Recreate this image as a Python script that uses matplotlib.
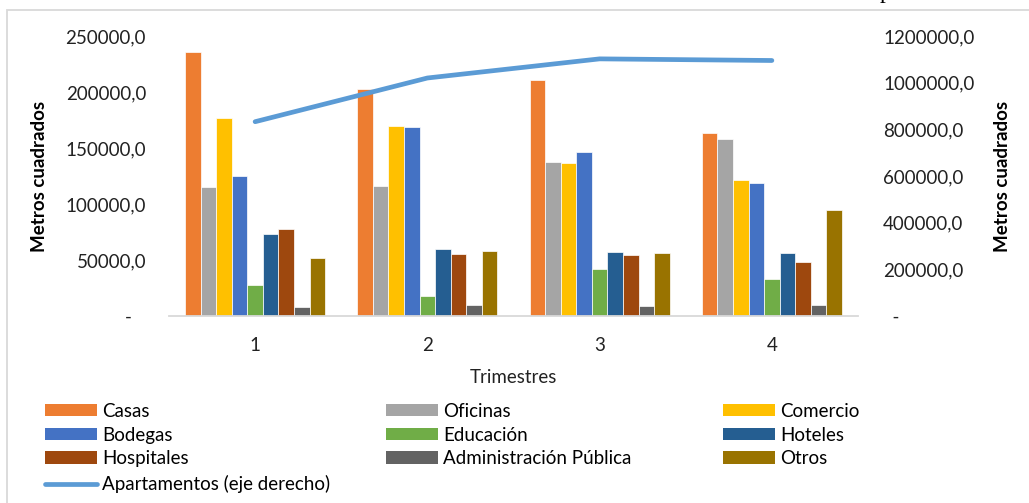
import numpy as np
import matplotlib.pyplot as plt
from matplotlib.patches import Patch, Rectangle
from matplotlib.lines import Line2D
from matplotlib.ticker import FuncFormatter, MultipleLocator

plt.rcParams["font.family"] = ["Lato", "DejaVu Sans"]

# Data
trimestres = ["1", "2", "3", "4"]
series_names = ["Casas", "Oficinas", "Comercio", "Bodegas", "Educación",
                "Hoteles", "Hospitales", "Administración Pública", "Otros"]
casas = [235500, 202700, 210700, 163000]
oficinas = [115200, 116000, 137800, 158000]
comercio = [176500, 169900, 136600, 121700]
bodegas = [125300, 169000, 146400, 119000]
educacion = [27300, 18100, 42000, 33300]
hoteles = [73500, 59800, 57400, 55900]
hospitales = [77700, 55400, 54500, 48200]
administracion = [8000, 9800, 9200, 9500]
otros = [51400, 58000, 56200, 94300]
apartamentos = [832700, 1020000, 1102000, 1095000]

series_values = [casas, oficinas, comercio, bodegas, educacion,
                 hoteles, hospitales, administracion, otros]
colors = ["#ED7D31", "#A5A5A5", "#FFC000", "#4472C4", "#70AD47",
          "#255E91", "#9E480E", "#636363", "#997300"]
line_color = "#5B9BD5"

W, H = 1029, 503
fig = plt.figure(figsize=(W / 100, H / 100), dpi=100)

# chart border (cut off on the right and bottom)
fig.add_artist(Rectangle((7 / W, -0.1), 1.2, 1 - 10 / H + 0.1,
                         transform=fig.transFigure, fill=False,
                         edgecolor="#D9D9D9", linewidth=1.3))
# descender of a letter from the page above
fig.text(885 / W, 1 + 2 / H, "p", family="Liberation Serif", fontsize=17,
         ha="center", va="baseline", color="black")

ax = fig.add_axes([169 / W, 1 - 316 / H, 689 / W, 280 / H])
ax2 = ax.twinx()

x = np.arange(len(trimestres))
n = len(series_values)
bw = 1 / (n + 2.07)
for i, (vals, col) in enumerate(zip(series_values, colors)):
    ax.bar(x + (i - (n - 1) / 2) * bw, vals, width=bw, color=col,
           edgecolor="white", linewidth=0.5, zorder=2)

ax2.plot(x, apartamentos, color=line_color, linewidth=3.4,
         solid_capstyle="round", solid_joinstyle="round", zorder=3)

ax.set_xlim(-0.5, len(trimestres) - 0.5)
ax.set_ylim(0, 250000)
ax2.set_ylim(0, 1200000)
ax.yaxis.set_major_locator(MultipleLocator(50000))
ax2.yaxis.set_major_locator(MultipleLocator(200000))


def fmt_left(v, pos):
    return "-   " if v == 0 else f"{v:.1f}".replace(".", ",")


def fmt_right(v, pos):
    return "  -" if v == 0 else f"{v:.1f}".replace(".", ",")


ax.yaxis.set_major_formatter(FuncFormatter(fmt_left))
ax2.yaxis.set_major_formatter(FuncFormatter(fmt_right))
ax.set_xticks(x)
ax.set_xticklabels(trimestres)

for a in (ax, ax2):
    for s in a.spines.values():
        s.set_visible(False)
    a.tick_params(length=0, labelsize=13.5, colors="#222222")
ax.tick_params(axis="y", pad=16.5)
ax2.tick_params(axis="y", pad=18)
ax.tick_params(axis="x", pad=15)
ax.spines["bottom"].set_visible(True)
ax.spines["bottom"].set_color("#D9D9D9")
ax.spines["bottom"].set_linewidth(1.3)

ax.set_ylabel("Metros cuadrados", fontsize=13.5, fontweight="bold")
ax.yaxis.set_label_coords((48 - 169) / 689, 0.5)
ax2.set_ylabel("Metros cuadrados", fontsize=13.5, fontweight="bold", rotation=90)
ax2.yaxis.set_label_coords((994 - 169) / 689, 0.5)
ax.set_xlabel("Trimestres", fontsize=13.5, color="#222222", labelpad=11)

# legend, laid out in three columns like the original
handles = [Patch(facecolor=c, label=s) for c, s in zip(colors, series_names)]
line_handle = Line2D([], [], color=line_color, linewidth=3.4,
                     solid_capstyle="round", label="Apartamentos (eje derecho)")
columns = [
    [handles[0], handles[3], handles[6]],
    [handles[1], handles[4], handles[7]],
    [handles[2], handles[5], handles[8]],
]
col_x = [45, 386, 723]
leg_kw = dict(loc="upper left", frameon=False, fontsize=13.5,
              handlelength=2.75, handleheight=0.62, handletextpad=0.3,
              labelspacing=0.35, borderpad=0, borderaxespad=0)
for cx, col_handles in zip(col_x, columns):
    fig.legend(handles=col_handles, bbox_to_anchor=(cx / W, 1 - 403 / H),
               **leg_kw)
fig.legend(handles=[line_handle], bbox_to_anchor=(col_x[0] / W, 1 - 475 / H),
           **leg_kw)

fig.savefig("out.png", dpi=100)
